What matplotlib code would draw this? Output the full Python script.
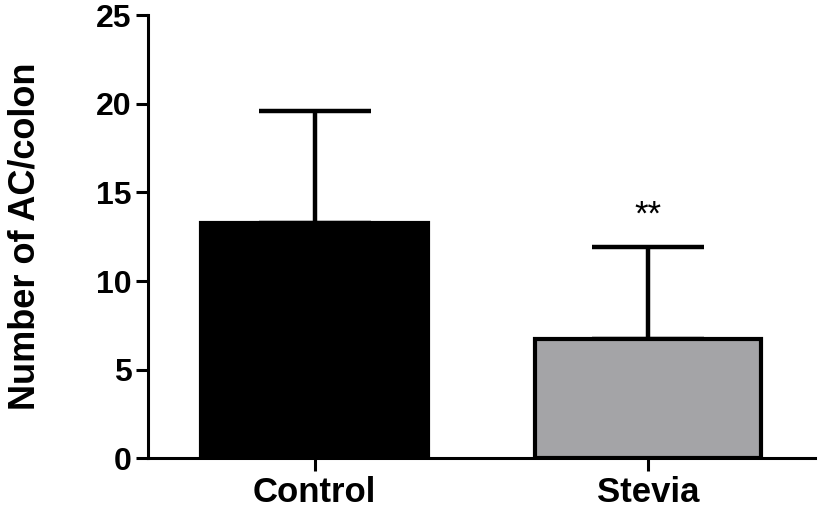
import numpy as np
import matplotlib.pyplot as plt

plt.rcParams['font.family'] = ['Liberation Sans', 'DejaVu Sans']

groups = ['Control', 'Stevia']
means = [13.3, 6.7]
sem_upper = [6.3, 5.2]
bar_colors = ['#000000', '#a4a4a7']
signif = ['', '**']

fig = plt.figure(figsize=(8.27, 5.08), dpi=100)
ax = fig.add_axes([0.179, 0.098, 0.806, 0.872])

x = np.arange(len(groups))
ax.bar(x, means, width=0.68, color=bar_colors, edgecolor='black', linewidth=3, zorder=2)
ax.errorbar(x, means, yerr=[np.zeros(len(means)), sem_upper], fmt='none',
            ecolor='black', elinewidth=3.2, capsize=40, capthick=3.2, zorder=1)

for xi, m, e, s in zip(x, means, sem_upper, signif):
    if s:
        ax.text(xi, m + e + 0.9, s, ha='center', va='bottom', fontsize=25)

ax.set_xlim(-0.5, 1.5)
ax.set_ylim(0, 25)
ax.set_yticks([0, 5, 10, 15, 20, 25])
ax.set_xticks(x)
ax.set_xticklabels(groups)

for side in ['top', 'right']:
    ax.spines[side].set_visible(False)
for side in ['left', 'bottom']:
    ax.spines[side].set_linewidth(2.2)

ax.tick_params(axis='both', width=2.2, length=9, labelsize=23, pad=3)
ax.tick_params(axis='x', labelsize=25, pad=4)
for lbl in ax.get_xticklabels() + ax.get_yticklabels():
    lbl.set_fontweight('bold')

ax.set_ylabel('Number of AC/colon', fontsize=26, fontweight='bold', labelpad=38)

fig.savefig('out.png', dpi=100)
